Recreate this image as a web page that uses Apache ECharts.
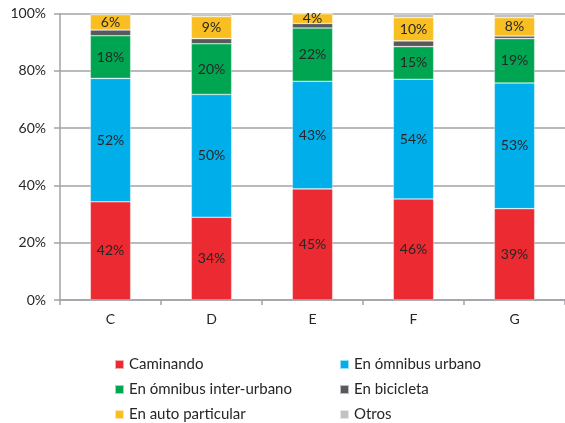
<!DOCTYPE html>
<html>
<head>
<meta charset="utf-8">
<script src="https://cdn.jsdelivr.net/npm/echarts@6/dist/echarts.min.js"></script>
<style>
html,body{margin:0;padding:0;background:#fff;}
#c{width:565px;height:423px;}
</style>
</head>
<body>
<div id="c"></div>
<script>
const categories = ['C', 'D', 'E', 'F', 'G'];
const seriesNames = ['Caminando', 'En ómnibus urbano', 'En ómnibus inter-urbano', 'En bicicleta', 'En auto particular', 'Otros'];
const caminando = [34.3, 28.9, 38.8, 35.3, 31.9];
const omnibusUrbano = [43.1, 42.9, 37.6, 41.8, 43.9];
const omnibusInter = [14.9, 17.7, 18.6, 11.4, 15.5];
const bicicleta = [2.0, 1.8, 1.6, 2.0, 0.9];
const autoParticular = [5.4, 7.7, 3.4, 8.1, 6.4];
const otros = [0.3, 1.0, 0.0, 1.4, 1.4];
const labelsCaminando = ['42%', '34%', '45%', '46%', '39%'];
const labelsUrbano = ['52%', '50%', '43%', '54%', '53%'];
const labelsInter = ['18%', '20%', '22%', '15%', '19%'];
const labelsAuto = ['6%', '9%', '4%', '10%', '8%'];
const yTicks = [0, 20, 40, 60, 80, 100];

const colors = ['#EC2A31', '#00AEEA', '#00A551', '#57595C', '#F9BF22', '#C1C2C6'];
const values = [caminando, omnibusUrbano, omnibusInter, bicicleta, autoParticular, otros];
const labels = [labelsCaminando, labelsUrbano, labelsInter, null, labelsAuto, null];
const FONT = 'Lato';

const series = seriesNames.map((name, i) => ({
  name: name,
  type: 'bar',
  stack: 'total',
  barWidth: '40%',
  data: values[i],
  itemStyle: { color: colors[i], borderColor: 'rgba(255,255,255,0.6)', borderWidth: 0.6 },
  label: labels[i] ? {
    show: true,
    position: 'inside',
    color: '#262626',
    fontFamily: FONT,
    fontSize: 14,
    formatter: p => labels[i][p.dataIndex]
  } : { show: false },
  emphasis: { disabled: true }
}));

const legendStyle = {
  orient: 'vertical', top: 357, height: 66,
  itemWidth: 9, itemHeight: 9, itemGap: 10,
  icon: 'rect', padding: 0,
  textStyle: { color: '#262626', fontFamily: FONT, fontSize: 15, lineHeight: 15 },
  selectedMode: false
};

const chart = echarts.init(document.getElementById('c'), null, { renderer: 'canvas' });
chart.setOption({
  animation: false,
  color: colors,
  grid: { left: 60, right: -6, top: 13.7, bottom: 123, containLabel: false },
  xAxis: {
    type: 'category',
    data: categories,
    axisLine: { lineStyle: { color: '#A0A3A8', width: 1.5 } },
    axisTick: { show: true, length: 5, lineStyle: { color: '#A0A3A8', width: 1.5 } },
    axisLabel: { color: '#262626', fontFamily: FONT, fontSize: 14, margin: 12 }
  },
  yAxis: {
    type: 'value',
    min: yTicks[0],
    max: yTicks[yTicks.length - 1],
    interval: 20,
    axisLine: { show: true, lineStyle: { color: '#A0A3A8', width: 1.5 } },
    axisTick: { show: true, length: 6, lineStyle: { color: '#A0A3A8', width: 1.5 } },
    splitLine: { lineStyle: { color: '#A0A3A8', width: 1.5 } },
    axisLabel: { color: '#262626', fontFamily: FONT, fontSize: 14, margin: 14, formatter: '{value}%' }
  },
  legend: [
    Object.assign({ data: [seriesNames[0], seriesNames[2], seriesNames[4]], left: 114 }, legendStyle),
    Object.assign({ data: [seriesNames[1], seriesNames[3], seriesNames[5]], left: 339 }, legendStyle)
  ],
  series: series
});
</script>
</body>
</html>
